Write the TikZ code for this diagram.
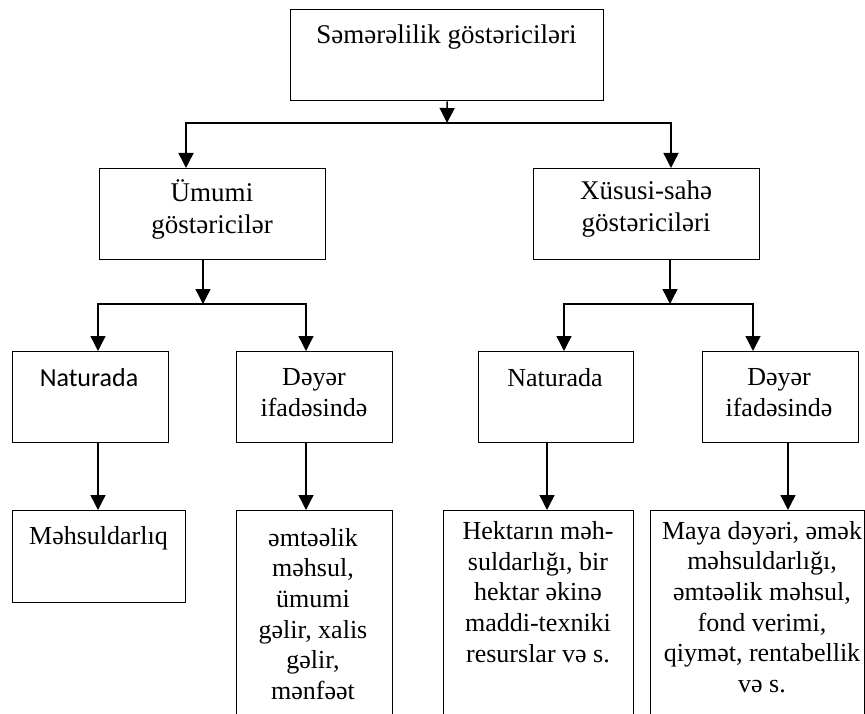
\documentclass[tikz,border=0pt]{standalone}
\usepackage{fontspec}
\setmainfont{Liberation Serif}
\newfontfamily\tnr{Liberation Serif}
\newfontfamily\calibri{Carlito}
\usetikzlibrary{arrows.meta}
\begin{document}
\begin{tikzpicture}[x=1pt,y=-1pt,
  box/.style={draw,line width=1.4pt,inner sep=0pt,anchor=north west},
  lbl/.style={inner sep=0pt,align=center,font=\tnr\fontsize{26}{31}\selectfont},
  lblb/.style={inner sep=0pt,align=center,font=\tnr\fontsize{27}{32}\selectfont},
  lbll/.style={inner sep=0pt,align=center,font=\tnr\fontsize{26}{30.6}\selectfont},
  arr/.style={line width=1.4pt,-{Triangle[length=15pt,width=15pt]}}]
\useasboundingbox (0,0) rectangle (865,714);
\clip (0,0) rectangle (865,714);
% boxes
\node[box,minimum width=313pt,minimum height=91pt] (top) at (290,9) {};
\node[box,minimum width=226pt,minimum height=91pt] (um) at (99,168) {};
\node[box,minimum width=226pt,minimum height=91pt] (xs) at (533,168) {};
\node[box,minimum width=156pt,minimum height=91pt] (nl) at (12,351) {};
\node[box,minimum width=156pt,minimum height=91pt] (dl) at (236,351) {};
\node[box,minimum width=155pt,minimum height=91pt] (nr) at (478,351) {};
\node[box,minimum width=156pt,minimum height=91pt] (dr) at (702,351) {};
\node[box,minimum width=173pt,minimum height=92pt] (mh) at (12,510) {};
\node[box,minimum width=156pt,minimum height=240pt] (el) at (236,510) {};
\node[box,minimum width=190pt,minimum height=240pt] (hk) at (443,510) {};
\node[box,minimum width=214pt,minimum height=240pt] (my) at (650,510) {};
% texts
\node[lblb] (topt) at (446.5,37) {Səmərəlilik göstəriciləri};
\node[lblb] (umt) at (212,209) {Ümumi\\göstəricilər};
\node[lblb] (xst) at (646,209) {Xüsusi-sahə\\göstəriciləri};
\node[lbl,font=\calibri\fontsize{26}{31}\selectfont] (nlt) at (89,378) {Naturada};
\node[lbl] (dlt) at (314,393) {Dəyər\\ifadəsində};
\node[lbl] (nrt) at (555,378) {Naturada};
\node[lbl] (drt) at (779,393) {Dəyər\\ifadəsində};
\node[lbl] (mht) at (98.5,538) {Məhsuldarlıq};
\node[lbll] (elt) at (313,614) {əmtəəlik\\məhsul,\\ümumi\\gəlir, xalis\\gəlir,\\mənfəət};
\node[lbll] (hkt) at (538,592) {Hektarın məh-\\suldarlığı, bir\\hektar əkinə\\maddi-texniki\\resurslar və s.};
\node[lbll] (myt) at (762,607) {Maya dəyəri, əmək\\məhsuldarlığı,\\əmtəəlik məhsul,\\fond verimi,\\qiymət, rentabellik\\və s.};
% branch points
\coordinate (b0) at (447,123);
\coordinate (b0l) at (186,123);
\coordinate (b0r) at (671,123);
\coordinate (b1) at (203,304);
\coordinate (c1) at (98,304);
\coordinate (c2) at (306,304);
\coordinate (b2) at (670,304);
\coordinate (c3) at (564,304);
\coordinate (c4) at (753,304);
\coordinate (o3) at (547,304);
\coordinate (o4) at (788,304);
% connectors
\draw[arr] (top.south) -- (b0);
\draw[arr] (b0) -| (b0l |- um.north);
\draw[arr] (b0) -| (b0r |- xs.north);
\draw[arr] (b1 |- um.south) -- (b1);
\draw[arr] (b1) -| (c1 |- nl.north);
\draw[arr] (b1) -| (c2 |- dl.north);
\draw[arr] (b2 |- xs.south) -- (b2);
\draw[arr] (b2) -| (c3 |- nr.north);
\draw[arr] (b2) -| (c4 |- dr.north);
\draw[arr] (c1 |- nl.south) -- (c1 |- mh.north);
\draw[arr] (c2 |- dl.south) -- (c2 |- el.north);
\draw[arr] (o3 |- nr.south) -- (o3 |- hk.north);
\draw[arr] (o4 |- dr.south) -- (o4 |- my.north);
\end{tikzpicture}
\end{document}
